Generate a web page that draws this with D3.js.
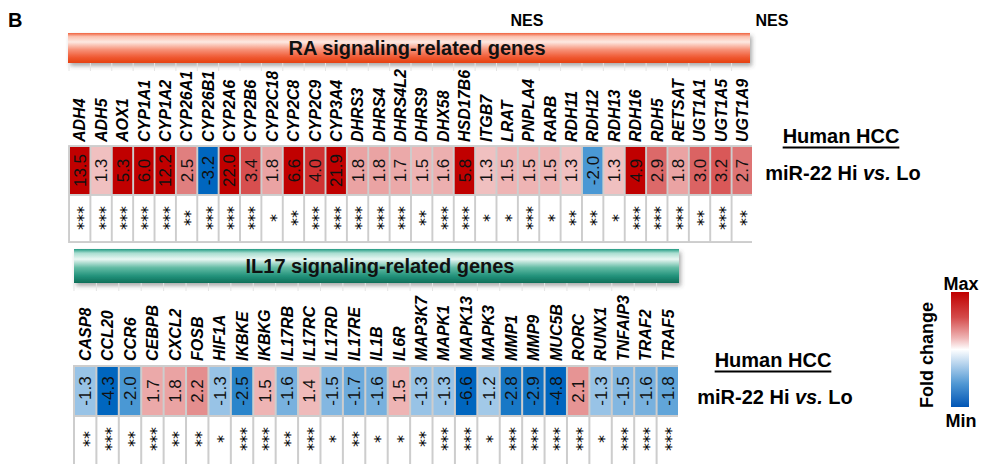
<!DOCTYPE html>
<html>
<head>
<meta charset="utf-8">
<script src="https://cdn.jsdelivr.net/npm/d3@7"></script>
<style>
  body { margin: 0; background: #fff; }
  svg { display: block; font-family: "Liberation Sans", Arial, sans-serif; }
</style>
</head>
<body>
<div id="figure"></div>
<script>
// RA signaling-related genes
const raGenes = ['ADH4', 'ADH5', 'AOX1', 'CYP1A1', 'CYP1A2', 'CYP26A1', 'CYP26B1', 'CYP2A6',
  'CYP2B6', 'CYP2C18', 'CYP2C8', 'CYP2C9', 'CYP3A4', 'DHRS3', 'DHRS4', 'DHRS4L2', 'DHRS9',
  'DHX58', 'HSD17B6', 'ITGB7', 'LRAT', 'PNPLA4', 'RARB', 'RDH11', 'RDH12', 'RDH13', 'RDH16',
  'RDH5', 'RETSAT', 'UGT1A1', 'UGT1A5', 'UGT1A9'];
const raFold = [13.5, 1.3, 5.3, 6.0, 12.2, 2.5, -3.2, 22.0, 3.4, 1.8, 6.6, 4.0, 21.9, 1.8, 1.8,
  1.7, 1.5, 1.6, 5.8, 1.3, 1.5, 1.5, 1.5, 1.3, -2.0, 1.3, 4.9, 2.9, 1.8, 3.0, 3.2, 2.7];
const raSig = ['***', '***', '***', '***', '***', '**', '***', '***', '***', '*', '**', '***',
  '***', '***', '***', '***', '**', '***', '***', '*', '*', '***', '*', '**', '**', '*', '***',
  '***', '***', '**', '***', '**'];

// IL17 signaling-related genes
const ilGenes = ['CASP8', 'CCL20', 'CCR6', 'CEBPB', 'CXCL2', 'FOSB', 'HIF1A', 'IKBKE', 'IKBKG',
  'IL17RB', 'IL17RC', 'IL17RD', 'IL17RE', 'IL1B', 'IL6R', 'MAP3K7', 'MAPK1', 'MAPK13', 'MAPK3',
  'MMP1', 'MMP9', 'MUC5B', 'RORC', 'RUNX1', 'TNFAIP3', 'TRAF2', 'TRAF5'];
const ilFold = [-1.3, -4.3, -2.0, 1.7, 1.8, 2.2, -1.3, -2.5, 1.5, -1.6, 1.4, -1.5, -1.7, -1.6,
  1.5, -1.3, -1.3, -6.6, -1.2, -2.8, -2.9, -4.8, 2.1, -1.3, -1.5, -1.6, -1.8];
const ilSig = ['**', '***', '**', '***', '**', '**', '*', '***', '***', '**', '***', '*', '**',
  '*', '*', '**', '***', '***', '*', '***', '***', '***', '***', '*', '***', '***', '***'];

// texts
const panelLetter = 'B';
const colLabel = 'NES';
const cohort = 'Human HCC';
const legendTitle = 'Fold change';

const w = 984;
const h = 464;

// fold change -> cell colour
const colorScale = d3.scaleLinear()
  .domain([-3.2, -2.5, -2.0, -1.6, -1.2, 1.3, 1.8, 2.5, 3.2, 4.0, 4.8])
  .range(['#0066bf', '#2a85cb', '#4a98d4', '#78b1de', '#a2c9e8', '#f0c0c0', '#eaa3a3',
    '#e07f7f', '#d95858', '#d03232', '#c00000'])
  .clamp(true);

const svg = d3.select('#figure')
  .append('svg')
  .attr('width', w)
  .attr('height', h);

const defs = svg.append('defs');

// banner shadow
const shadow = defs.append('filter')
  .attr('id', 'shadow')
  .attr('x', '-5%').attr('y', '-30%')
  .attr('width', '110%').attr('height', '170%');
shadow.append('feDropShadow')
  .attr('dx', 2).attr('dy', 3)
  .attr('stdDeviation', 2)
  .attr('flood-color', '#444')
  .attr('flood-opacity', 0.45);

function addGradient(id, stops) {
  const g = defs.append('linearGradient')
    .attr('id', id)
    .attr('x1', 0).attr('y1', 0)
    .attr('x2', 0).attr('y2', 1);
  g.selectAll('stop')
    .data(stops)
    .enter()
    .append('stop')
    .attr('offset', (d) => d[0])
    .attr('stop-color', (d) => d[1]);
}

addGradient('raGrad', [[0, '#f0623f'], [0.12, '#fbc2b0'], [0.3, '#fde9e2'],
  [0.55, '#f7937a'], [0.8, '#f05a35'], [1, '#e5400f']]);
addGradient('ilGrad', [[0, '#1f9a82'], [0.12, '#a9ddd0'], [0.3, '#eaf7f3'],
  [0.55, '#62bba4'], [0.8, '#21917a'], [1, '#0f6e58']]);

// legend gradient (max on top)
addGradient('legendGrad', [[0, '#c00000'], [0.22, '#d44a4a'], [0.4, '#efb5b5'],
  [0.5, '#ffffff'], [0.62, '#b9d5ee'], [0.8, '#4f97d3'], [1, '#0055b5']]);

// Draw one heatmap panel
function drawPanel(p) {
  const xScale = d3.scaleBand()
    .domain(p.genes)
    .range([p.x0, p.x1])
    .paddingInner(0.09);
  const bw = xScale.bandwidth();
  const gap = xScale.step() - bw;

  // banner
  svg.append('rect')
    .attr('x', p.bx0).attr('y', p.by)
    .attr('width', p.bx1 - p.bx0).attr('height', p.bh)
    .attr('fill', 'url(#' + p.grad + ')')
    .attr('filter', 'url(#shadow)');
  svg.append('text')
    .attr('x', p.tx).attr('y', p.by + p.bh / 2)
    .attr('dy', '0.36em')
    .attr('text-anchor', 'middle')
    .attr('font-size', 20)
    .attr('font-weight', 'bold')
    .attr('fill', '#111')
    .text(p.title);

  // faint column marks under banner
  svg.append('g')
    .selectAll('line')
    .data(p.genes)
    .enter()
    .append('line')
    .attr('x1', (d) => xScale(d) - gap / 2)
    .attr('x2', (d) => xScale(d) - gap / 2)
    .attr('y1', p.by + p.bh)
    .attr('y2', p.by + p.bh + 8)
    .attr('stroke', '#e4e4e4');

  // gene labels
  svg.append('g')
    .selectAll('text')
    .data(p.genes)
    .enter()
    .append('text')
    .attr('transform', (d) => 'translate(' + (xScale(d) + bw / 2) + ',' + p.labelBottom + ') rotate(-90)')
    .attr('dy', '0.36em')
    .attr('font-size', 16)
    .attr('font-weight', 'bold')
    .attr('font-style', 'italic')
    .text((d) => d);

  // grid background
  svg.append('rect')
    .attr('x', p.x0 - gap).attr('y', p.rowTop - gap)
    .attr('width', p.x1 - p.x0 + gap)
    .attr('height', p.tableBottom - p.rowTop + gap)
    .attr('fill', '#cdcdcd');

  const data = p.genes.map((g, i) => ({ gene: g, fold: p.fold[i], sig: p.sig[i] }));

  // fold change cells
  const cells = svg.append('g')
    .selectAll('g')
    .data(data)
    .enter()
    .append('g');
  cells.append('rect')
    .attr('x', (d) => xScale(d.gene))
    .attr('y', p.rowTop)
    .attr('width', bw)
    .attr('height', p.rowH)
    .attr('fill', (d) => colorScale(d.fold));
  cells.append('text')
    .attr('transform', (d) => 'translate(' + (xScale(d.gene) + bw / 2) + ',' + (p.rowTop + p.rowH / 2) + ') rotate(-90)')
    .attr('dy', '0.36em')
    .attr('text-anchor', 'middle')
    .attr('font-size', 17)
    .attr('fill', '#111')
    .text((d) => d.fold.toFixed(1));

  // significance cells
  const sTop = p.rowTop + p.rowH + gap;
  cells.append('rect')
    .attr('x', (d) => xScale(d.gene))
    .attr('y', sTop)
    .attr('width', bw)
    .attr('height', p.tableBottom - gap - sTop)
    .attr('fill', '#fff');
  cells.append('text')
    .attr('transform', (d) => 'translate(' + (xScale(d.gene) + bw / 2) + ',' + (sTop + p.starMid) + ') rotate(-90)')
    .attr('dy', '0.6em')
    .attr('text-anchor', 'middle')
    .attr('font-family', '"DejaVu Sans", sans-serif')
    .attr('font-size', 16)
    .attr('fill', '#000')
    .text((d) => d.sig);

  // comparison label
  const hcc = svg.append('text')
    .attr('x', p.cx).attr('y', p.cy)
    .attr('text-anchor', 'middle')
    .attr('font-size', 20)
    .attr('font-weight', 'bold')
    .text(cohort);
  const tw = hcc.node().getComputedTextLength();
  svg.append('line')
    .attr('x1', p.cx - tw / 2).attr('x2', p.cx + tw / 2)
    .attr('y1', p.cy + 4.5).attr('y2', p.cy + 4.5)
    .attr('stroke', '#000')
    .attr('stroke-width', 2);
  const mir = svg.append('text')
    .attr('x', p.cx + 2).attr('y', p.cy + 37)
    .attr('text-anchor', 'middle')
    .attr('font-size', 20)
    .attr('font-weight', 'bold');
  mir.append('tspan').text('miR-22 Hi ');
  mir.append('tspan').attr('font-style', 'italic').text('vs.');
  mir.append('tspan').text(' Lo');
}

// panel letter and NES headers
svg.append('text')
  .attr('x', 8).attr('y', 27)
  .attr('font-size', 20)
  .attr('font-weight', 'bold')
  .text(panelLetter);
svg.selectAll('.nes')
  .data([527, 772])
  .enter()
  .append('text')
  .attr('class', 'nes')
  .attr('x', (d) => d).attr('y', 26)
  .attr('text-anchor', 'middle')
  .attr('font-size', 16)
  .attr('font-weight', 'bold')
  .text(colLabel);

drawPanel({
  genes: raGenes, fold: raFold, sig: raSig,
  x0: 70, x1: 752,
  bx0: 68, bx1: 750, by: 33, bh: 30, grad: 'raGrad', tx: 417,
  title: 'RA signaling-related genes',
  labelBottom: 142, rowTop: 147, rowH: 47, tableBottom: 243, starMid: 22,
  cx: 841, cy: 143
});

drawPanel({
  genes: ilGenes, fold: ilFold, sig: ilSig,
  x0: 75, x1: 678,
  bx0: 74, bx1: 679, by: 249, bh: 34, grad: 'ilGrad', tx: 380,
  title: 'IL17 signaling-related genes',
  labelBottom: 361, rowTop: 367, rowH: 48, tableBottom: 480, starMid: 22,
  cx: 773, cy: 367
});

// colour key
svg.append('rect')
  .attr('x', 951).attr('y', 292)
  .attr('width', 18).attr('height', 115)
  .attr('fill', 'url(#legendGrad)');
svg.append('text')
  .attr('x', 961).attr('y', 290)
  .attr('text-anchor', 'middle')
  .attr('font-size', 18)
  .attr('font-weight', 'bold')
  .text('Max');
svg.append('text')
  .attr('x', 961).attr('y', 427)
  .attr('text-anchor', 'middle')
  .attr('font-size', 18)
  .attr('font-weight', 'bold')
  .text('Min');
svg.append('text')
  .attr('transform', 'translate(927,355) rotate(-90)')
  .attr('dy', '0.36em')
  .attr('text-anchor', 'middle')
  .attr('font-size', 18)
  .attr('font-weight', 'bold')
  .text(legendTitle);
</script>
</body>
</html>
